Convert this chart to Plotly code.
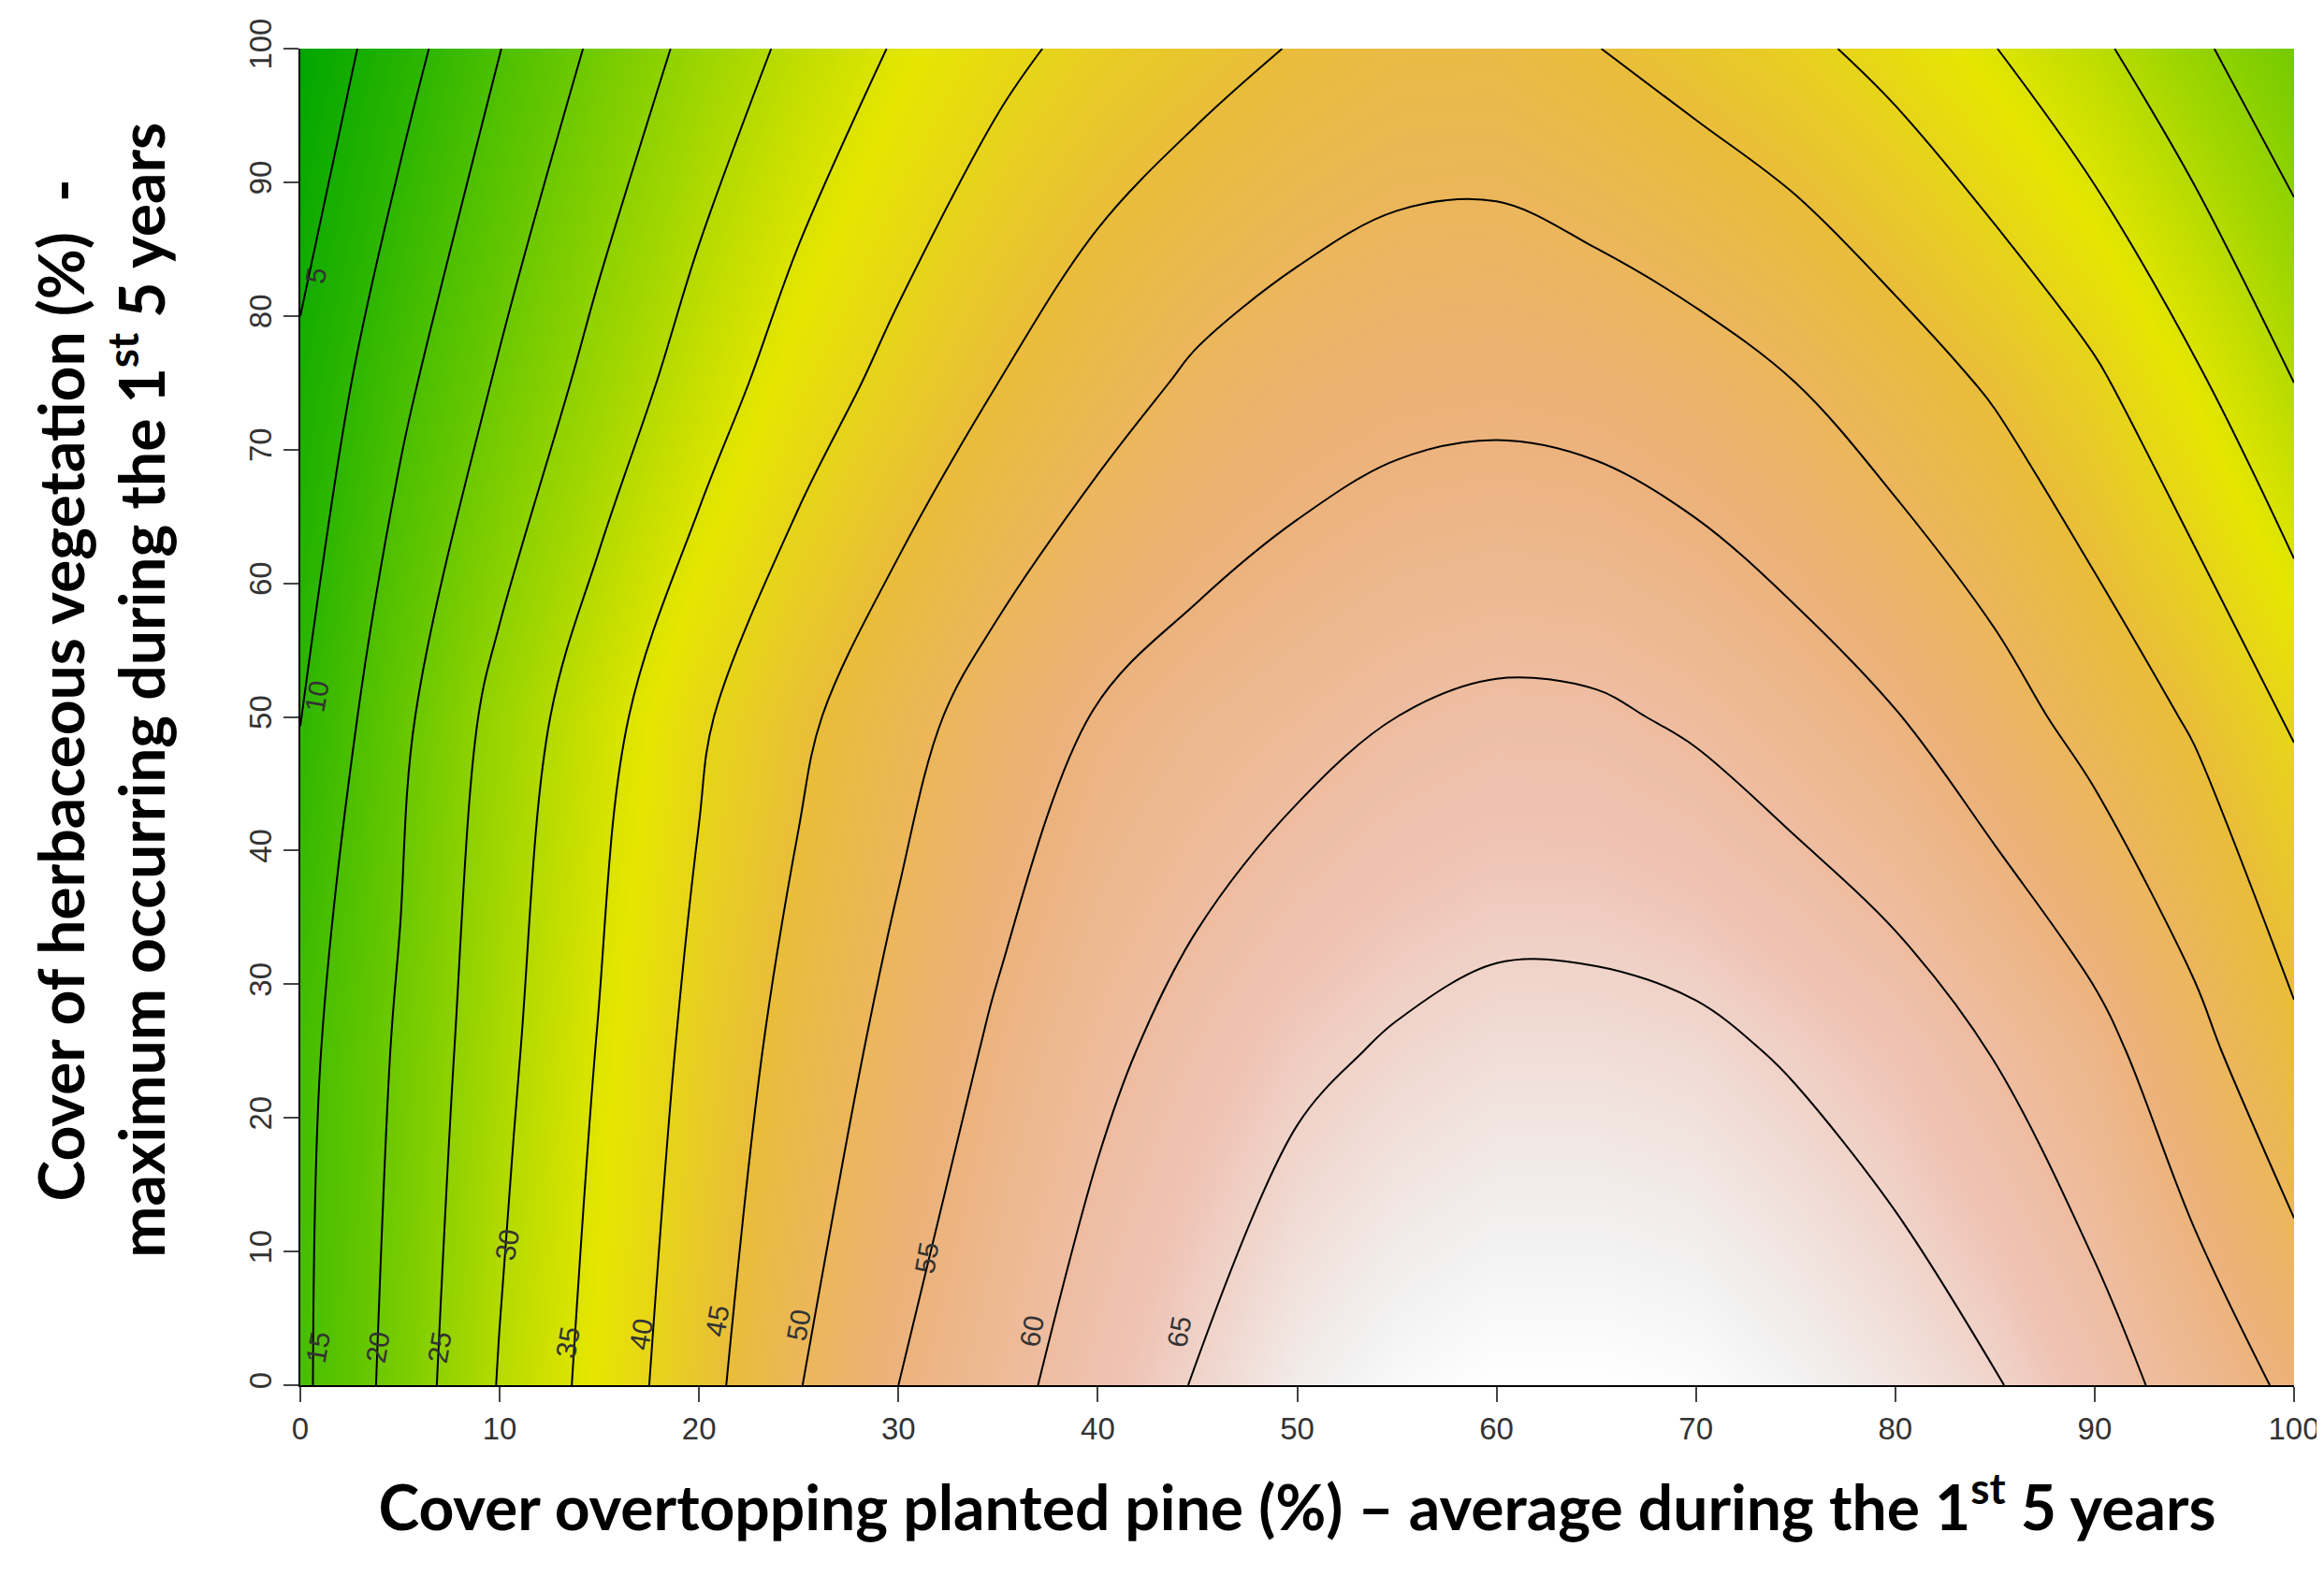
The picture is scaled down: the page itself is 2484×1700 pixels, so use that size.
import plotly.graph_objects as go

# grid (x = pine cover, y = herbaceous cover)
x_vals = [0, 5, 10, 15, 20, 25, 30, 35, 40, 45, 50, 55, 60, 65, 70, 75, 80, 85, 90, 95, 100]
y_vals = [0, 25, 50, 75, 100]

z_y0 = [14, 21.9, 30.3, 36.8, 43.2, 49.8, 55, 58.6, 62.1, 65.3, 68.5, 70.5, 71.5, 71.5, 71, 69.5, 67.5, 65.3, 62, 58.1, 54]
z_y25 = [13.5, 20.7, 28.6, 35.3, 41.5, 47, 51.6, 55.8, 59, 61.6, 64, 65.5, 66.5, 66.5, 66, 64.5, 62.7, 59.8, 56.6, 51.5, 46]
z_y50 = [9.9, 18.8, 26.7, 33.2, 39.3, 44, 48.3, 52.1, 55.3, 57.2, 58.6, 60, 60.8, 60.6, 59.4, 57.5, 55.2, 52, 48.2, 44.4, 39.5]
z_y75 = [6, 13.8, 20.6, 26.8, 32.4, 37.6, 41.4, 45, 48, 50.8, 52.5, 53.5, 53.8, 53.3, 52, 50, 47.3, 44.4, 40.8, 35.8, 30]
z_y100 = [1, 8, 14.9, 21, 26.6, 31.3, 35.5, 38.8, 41.5, 43.3, 45.3, 46.7, 46.8, 45.1, 43.1, 41.1, 38.5, 35.1, 31, 26, 21]
z = [z_y0, z_y25, z_y50, z_y75, z_y100]

# contour labels as drawn by R near the lower ends of the lines
lab_text = ["5", "10", "15", "20", "25", "30", "35", "40", "45", "50", "55", "60", "65"]
lab_x = [0.8, 0.8, 0.9, 3.9, 7.0, 10.4, 13.4, 17.1, 20.9, 25.0, 31.4, 36.7, 44.1]
lab_y = [83, 51.5, 2.8, 2.8, 2.8, 10.5, 3.2, 3.8, 4.8, 4.5, 9.5, 4.0, 4.0]

# R terrain.colors
terrain = [
    [0.0, "rgb(0,166,0)"], [0.125, "rgb(45,182,0)"], [0.25, "rgb(99,198,0)"],
    [0.375, "rgb(160,214,0)"], [0.5, "rgb(230,230,0)"], [0.625, "rgb(233,189,58)"],
    [0.75, "rgb(236,177,118)"], [0.875, "rgb(239,194,179)"], [0.97, "rgb(242,242,242)"],
    [1.0, "rgb(255,255,255)"],
]

fig = go.Figure()
fig.add_trace(go.Heatmap(x=x_vals, y=y_vals, z=z, colorscale=terrain, zsmooth="best",
                         showscale=False, hoverinfo="skip"))
fig.add_trace(go.Contour(x=x_vals, y=y_vals, z=z, showscale=False,
                         contours=dict(coloring="none", start=5, end=65, size=5),
                         line=dict(color="black", width=2, smoothing=1.0)))

for t, lx, ly in zip(lab_text, lab_x, lab_y):
    fig.add_annotation(x=lx, y=ly, text=t, showarrow=False, textangle=-80,
                       font=dict(size=30, color="#333333", family="Liberation Sans"))

fig.add_annotation(xref="paper", yref="paper", x=-0.1, y=0.52, xanchor="center", yanchor="middle",
                   text="<b>Cover of herbaceous vegetation (%)  -<br>maximum occurring during the 1<sup>st</sup> 5 years</b>",
                   textangle=-90, showarrow=False, font=dict(size=66, family="Lato", color="black"))

tick_font = dict(size=33, color="#333333", family="Liberation Sans")
fig.update_xaxes(range=[0, 100], tickvals=list(range(0, 101, 10)), ticks="outside", ticklen=16,
                 tickwidth=2, showline=True, linecolor="black", linewidth=2, showgrid=False,
                 zeroline=False, tickfont=tick_font,
                 title=dict(text="<b>Cover overtopping planted pine (%) – average during the 1<sup>st</sup> 5 years</b>",
                            font=dict(size=66, family="Lato", color="black"), standoff=45))
fig.update_yaxes(range=[0, 100], tickvals=list(range(0, 101, 10)), ticks="outside", ticklen=16,
                 tickwidth=2, showline=True, linecolor="black", linewidth=2, showgrid=False,
                 zeroline=False, tickangle=-90, tickfont=tick_font)

fig.update_layout(width=2484, height=1700, margin=dict(l=313, r=40, t=44, b=227),
                  plot_bgcolor="white", paper_bgcolor="white", showlegend=False)

fig.write_html("out.html")
